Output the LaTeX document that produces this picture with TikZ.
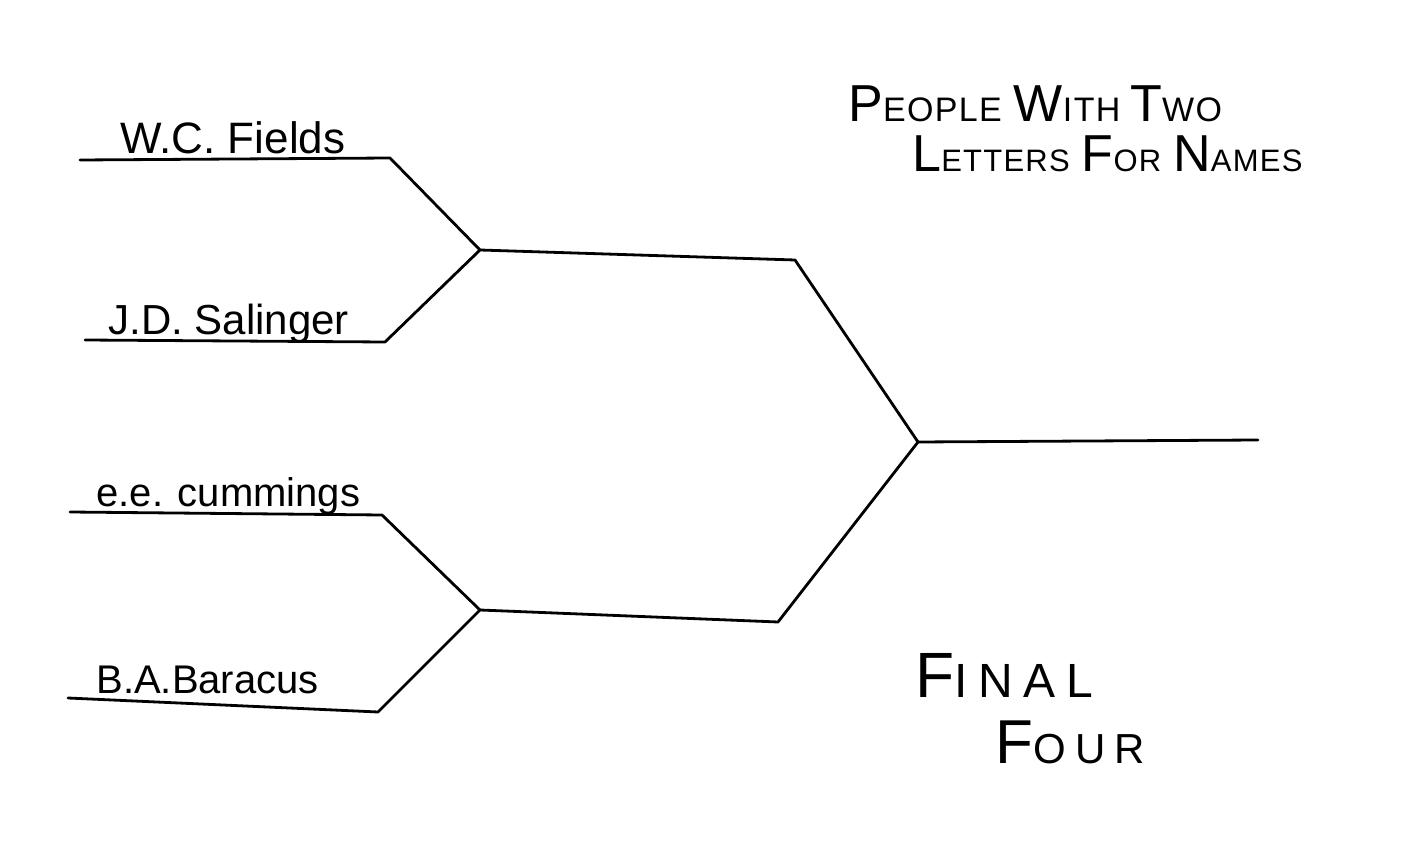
\documentclass[tikz,border=0pt]{standalone}
\usepackage{fontspec}
\setmainfont{Liberation Sans}
\newfontfamily\spacedfont[LetterSpace=4]{Liberation Sans}
\newfontfamily\widefont[LetterSpace=22]{Liberation Sans}
\newcommand{\capsA}[2]{{\fontsize{26}{26}\selectfont #1}{\fontsize{17}{17}\selectfont #2}}
\newcommand{\capsB}[2]{{\fontsize{26}{26}\selectfont #1}{\fontsize{15.5}{15.5}\selectfont #2}}
\begin{document}
\begin{tikzpicture}[x=0.5pt,y=-0.5pt,
  bracket/.style={line width=1.4pt, line cap=round, line join=round},
  personname/.style={anchor=base west, inner sep=0pt, font=\fontsize{21}{21}\selectfont},
  titletext/.style={anchor=base west, inner sep=0pt, text depth=0pt, font=\spacedfont}]
\useasboundingbox[fill=white] (0,0) rectangle (1410,866);
% coordinates
\coordinate (a1) at (80,160);  \coordinate (a2) at (390,158);
\coordinate (b1) at (85,340);  \coordinate (b2) at (385,342);
\coordinate (j1) at (480,250); \coordinate (j1e) at (795,260);
\coordinate (c1) at (70,512);  \coordinate (c2) at (382,515);
\coordinate (d1) at (68,698);  \coordinate (d2) at (378,712);
\coordinate (j2) at (480,610); \coordinate (j2e) at (778,622);
\coordinate (f) at (918,442);  \coordinate (fe) at (1258,440);
% bracket
\draw[bracket] (a1) -- (a2) -- (j1);
\draw[bracket] (b1) -- (b2) -- (j1);
\draw[bracket] (j1) -- (j1e) -- (f);
\draw[bracket] (c1) -- (c2) -- (j2);
\draw[bracket] (d1) -- (d2) -- (j2);
\draw[bracket] (j2) -- (j2e) -- (f);
\draw[bracket] (f) -- (fe);
% names
\node[personname, font=\fontsize{22}{22}\selectfont] (n1) at (120,154) {W.C. Fields};
\node[personname] (n2) at (108,335) {J.D. Salinger};
\node[personname, font=\fontsize{20}{20}\selectfont] (n3) at (96,507) {e.e. cummings};
\node[personname, font=\fontsize{20}{20}\selectfont] (n4) at (96,693) {B.A.Baracus};
% titles
\node[titletext] (t1) at (848,122) {\capsA{P}{EOPLE}\hspace{6pt}\capsA{W}{ITH}\hspace{5pt}\capsA{T}{WO}};
\node[titletext] (t2) at (912,172) {\capsB{L}{ETTERS}\hspace{6pt}\capsB{F}{OR}\hspace{6pt}\capsB{N}{AMES}};
\node[titletext, font=\widefont] (t3) at (915,697) {{\fontsize{32}{32}\selectfont F}{\fontsize{24}{24}\selectfont INAL}};
\node[titletext, font=\widefont] (t4) at (995,763) {{\fontsize{31}{31}\selectfont F}{\fontsize{21}{21}\selectfont OUR}};
\end{tikzpicture}
\end{document}
